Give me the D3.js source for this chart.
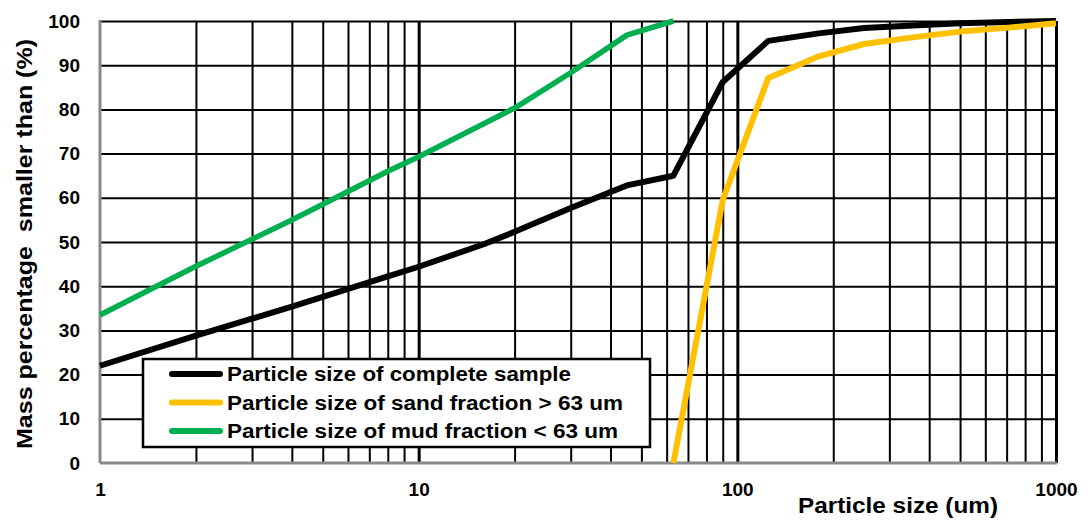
<!DOCTYPE html>
<html>
<head>
<meta charset="utf-8">
<script src="https://cdn.jsdelivr.net/npm/d3@7"></script>
<style>
  html, body { margin: 0; padding: 0; background: #fff; }
  svg { display: block; font-family: "Liberation Sans", Arial, sans-serif; font-weight: bold; }
</style>
</head>
<body>
<svg id="chart" width="1088" height="520"></svg>
<script>
// Grain size distribution curves (cumulative mass % finer than a given size)
const completeSize = [1, 2, 4, 8, 10, 16, 20, 30, 45, 63, 90, 125, 180, 250, 355, 500, 710, 1000];
const completePct  = [22, 28.8, 35.4, 42.2, 44.4, 49.5, 52.3, 57.7, 62.8, 65, 86.2, 95.5, 97.2, 98.4, 99, 99.5, 99.8, 100];

const sandSize = [63, 90, 125, 180, 250, 355, 500, 710, 1000];
const sandPct  = [0, 59.5, 87.1, 92, 94.8, 96.3, 97.6, 98.5, 99.5];

const mudSize = [1, 2, 4, 8, 10, 20, 30, 45, 63];
const mudPct  = [33.5, 44.5, 55, 66, 69.3, 80.3, 88.3, 96.8, 100];

const seriesNames = [
  "Particle size of complete sample",
  "Particle size of sand fraction > 63 um",
  "Particle size of mud fraction < 63 um"
];
const seriesColors = ["#000000", "#FFC000", "#00B050"];

const xTickValues = [1, 10, 100, 1000];
const yTickValues = [0, 10, 20, 30, 40, 50, 60, 70, 80, 90, 100];
const xTitle = "Particle size (um)";
const yTitle = "Mass percentage  smaller than (%)";

const svg = d3.select("#chart");
const plotL = 100, plotR = 1056, plotT = 21, plotB = 463;

const x = d3.scaleLog().domain([1, 1000]).range([plotL, plotR]);
const y = d3.scaleLinear().domain([0, 100]).range([plotB, plotT]);

// minor vertical grid: 1..9 in every decade
const minorX = [];
for (let d = 1; d <= 100; d *= 10) for (let m = 2; m <= 9; m++) minorX.push(d * m);

const grid = svg.append("g");
grid.append("g")
  .attr("transform", `translate(0,${plotB})`)
  .call(d3.axisBottom(x).tickValues(minorX).tickSize(-(plotB - plotT)).tickFormat(""))
  .call(g => g.select(".domain").remove())
  .call(g => g.selectAll("line").attr("stroke", "#000").attr("stroke-width", 2));
grid.append("g")
  .attr("transform", `translate(0,${plotB})`)
  .call(d3.axisBottom(x).tickValues([10, 100, 1000]).tickSize(-(plotB - plotT)).tickFormat(""))
  .call(g => g.select(".domain").remove())
  .call(g => g.selectAll("line").attr("stroke", "#000").attr("stroke-width", 3));
grid.append("g")
  .attr("transform", `translate(${plotL},0)`)
  .call(d3.axisLeft(y).tickValues(yTickValues.slice(1)).tickSize(-(plotR - plotL)).tickFormat(""))
  .call(g => g.select(".domain").remove())
  .call(g => g.selectAll("line").attr("stroke", "#000").attr("stroke-width", 2));

// axis lines (grey)
svg.append("line").attr("x1", plotL).attr("x2", plotR + 1).attr("y1", plotB).attr("y2", plotB)
  .attr("stroke", "#8a8a8a").attr("stroke-width", 3);
svg.append("line").attr("x1", plotL).attr("x2", plotL).attr("y1", plotT - 1).attr("y2", plotB)
  .attr("stroke", "#8a8a8a").attr("stroke-width", 3);

// tick labels
svg.append("g")
  .attr("transform", `translate(0,${plotB})`)
  .call(d3.axisBottom(x).tickValues(xTickValues).tickSize(0).tickPadding(20).tickFormat(d3.format("d")))
  .call(g => g.select(".domain").remove())
  .call(g => g.selectAll("text").attr("font-size", 19).attr("font-weight", "bold")
    .attr("font-family", "Liberation Sans, Arial, sans-serif").attr("fill", "#000"));
svg.append("g")
  .attr("transform", `translate(${plotL},0)`)
  .call(d3.axisLeft(y).tickValues(yTickValues).tickSize(0).tickPadding(20).tickFormat(d3.format("d")))
  .call(g => g.select(".domain").remove())
  .call(g => g.selectAll("text").attr("font-size", 19).attr("font-weight", "bold")
    .attr("font-family", "Liberation Sans, Arial, sans-serif").attr("fill", "#000"));

// axis titles
svg.append("text").attr("x", 798).attr("y", 513)
  .attr("font-size", 22).attr("textLength", 200).attr("lengthAdjust", "spacingAndGlyphs")
  .text(xTitle);
svg.append("text").attr("transform", "translate(32,244) rotate(-90)").attr("text-anchor", "middle")
  .attr("font-size", 22).attr("textLength", 410).attr("lengthAdjust", "spacingAndGlyphs")
  .style("white-space", "pre").text(yTitle);

// curves
const line = d3.line().x(d => x(d[0])).y(d => y(d[1]));
const series = [
  d3.zip(completeSize, completePct),
  d3.zip(sandSize, sandPct),
  d3.zip(mudSize, mudPct)
];
svg.append("g").selectAll("path").data(series).join("path")
  .attr("d", line)
  .attr("fill", "none")
  .attr("stroke", (d, i) => seriesColors[i])
  .attr("stroke-width", (d, i) => i === 2 ? 5.5 : 6)
  .attr("stroke-linejoin", "round");

// legend
const legendWidths = [344, 396, 391];
const lg = svg.append("g");
lg.append("rect").attr("x", 143).attr("y", 359).attr("width", 507).attr("height", 88)
  .attr("fill", "#fff").attr("stroke", "#000").attr("stroke-width", 2.5);
seriesNames.forEach((name, i) => {
  const cy = 374 + i * 28.5;
  lg.append("line").attr("x1", 172).attr("x2", 220).attr("y1", cy).attr("y2", cy)
    .attr("stroke", seriesColors[i]).attr("stroke-width", 6).attr("stroke-linecap", "round");
  lg.append("text").attr("x", 227).attr("y", cy).attr("dy", "0.36em")
    .attr("font-size", 20).attr("textLength", legendWidths[i]).attr("lengthAdjust", "spacingAndGlyphs")
    .text(name);
});
</script>
</body>
</html>
